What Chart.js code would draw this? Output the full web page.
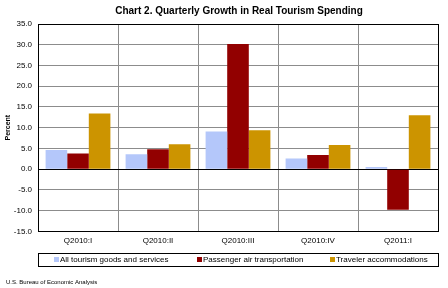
<!DOCTYPE html>
<html>
<head>
<meta charset="utf-8">
<script src="https://cdn.jsdelivr.net/npm/chart.js@4/dist/chart.umd.min.js"></script>
<style>
  html, body { margin: 0; padding: 0; background: #fff; }
  #wrap { width: 448px; height: 288px; }
</style>
</head>
<body>
<div id="wrap"><canvas id="myChart" width="448" height="288"></canvas></div>
<script>
const quarters = ["Q2010:I", "Q2010:II", "Q2010:III", "Q2010:IV", "Q2011:I"];
const allTourism = [4.6, 3.6, 9.1, 2.6, 0.5];
const airTransport = [3.8, 4.8, 30.2, 3.4, -9.8];
const accommodations = [13.4, 6.0, 9.4, 5.8, 13.0];
const yTicks = [-15, -10, -5, 0, 5, 10, 15, 20, 25, 30, 35];

const chartTitle = "Chart 2. Quarterly Growth in Real Tourism Spending";
const sourceNote = "U.S. Bureau of Economic Analysis";

const FONT = "'Liberation Sans', Arial, sans-serif";

// title over the plot, frame, boxed legend and source line
const decorPlugin = {
  id: "decor",
  afterDraw(c) {
    const ctx = c.ctx;
    const a = c.chartArea;
    const left = Math.round(a.left), right = Math.round(a.right);
    ctx.save();

    ctx.fillStyle = "#000";
    ctx.font = "bold 10px " + FONT;
    ctx.textAlign = "center";
    ctx.textBaseline = "middle";
    ctx.fillText(chartTitle, (left + right) / 2 + 1, 11);

    ctx.strokeStyle = "#000";
    ctx.lineWidth = 1;
    ctx.strokeRect(left + 0.5, Math.round(a.top) + 0.5, right - left, Math.round(a.bottom - a.top));

    // legend box
    const top = 253;
    ctx.strokeRect(left + 0.5, top + 0.5, right - left, 13);
    const marks = [54, 197, 330];
    ctx.font = "8px " + FONT;
    ctx.textAlign = "left";
    c.data.datasets.forEach((ds, i) => {
      ctx.fillStyle = ds.backgroundColor;
      ctx.fillRect(marks[i], top + 4, 5, 5);
      ctx.fillStyle = "#000";
      ctx.fillText(ds.label, marks[i] + 6, top + 7);
    });

    ctx.font = "6px " + FONT;
    ctx.fillText(sourceNote, 6, 282);
    ctx.restore();
  }
};

new Chart(document.getElementById("myChart"), {
  type: "bar",
  data: {
    labels: quarters,
    datasets: [
      { label: "All tourism goods and services", data: allTourism, backgroundColor: "#b4c7fa" },
      { label: "Passenger air transportation", data: airTransport, backgroundColor: "#920000" },
      { label: "Traveler accommodations", data: accommodations, backgroundColor: "#cc9400" }
    ]
  },
  options: {
    responsive: false,
    animation: false,
    layout: { padding: { left: 4, right: 10, top: 24, bottom: 37 } },
    datasets: { bar: { categoryPercentage: 0.81, barPercentage: 1.0 } },
    plugins: {
      title: { display: false },
      legend: { display: false },
      tooltip: { enabled: false }
    },
    scales: {
      x: {
        grid: { color: "#8c8c8c", offset: true, drawTicks: false },
        border: { color: "#000" },
        ticks: { color: "#000", font: { family: FONT, size: 8 }, padding: 5, maxRotation: 0 }
      },
      y: {
        min: -15,
        max: 35,
        afterBuildTicks: s => { s.ticks = yTicks.map(v => ({ value: v })); },
        afterFit: s => { s.width = 34; },
        grid: {
          color: ctx => (ctx.tick.value === 0 || ctx.tick.value === 35) ? "#000" : "#8c8c8c",
          drawTicks: false
        },
        border: { color: "#000" },
        title: {
          display: true,
          text: "Percent",
          color: "#000",
          font: { family: FONT, size: 7, weight: "bold" },
          padding: 0
        },
        ticks: {
          color: "#000",
          font: { family: FONT, size: 8 },
          padding: 6,
          callback: v => v.toFixed(1)
        }
      }
    }
  },
  plugins: [decorPlugin]
});
</script>
</body>
</html>
